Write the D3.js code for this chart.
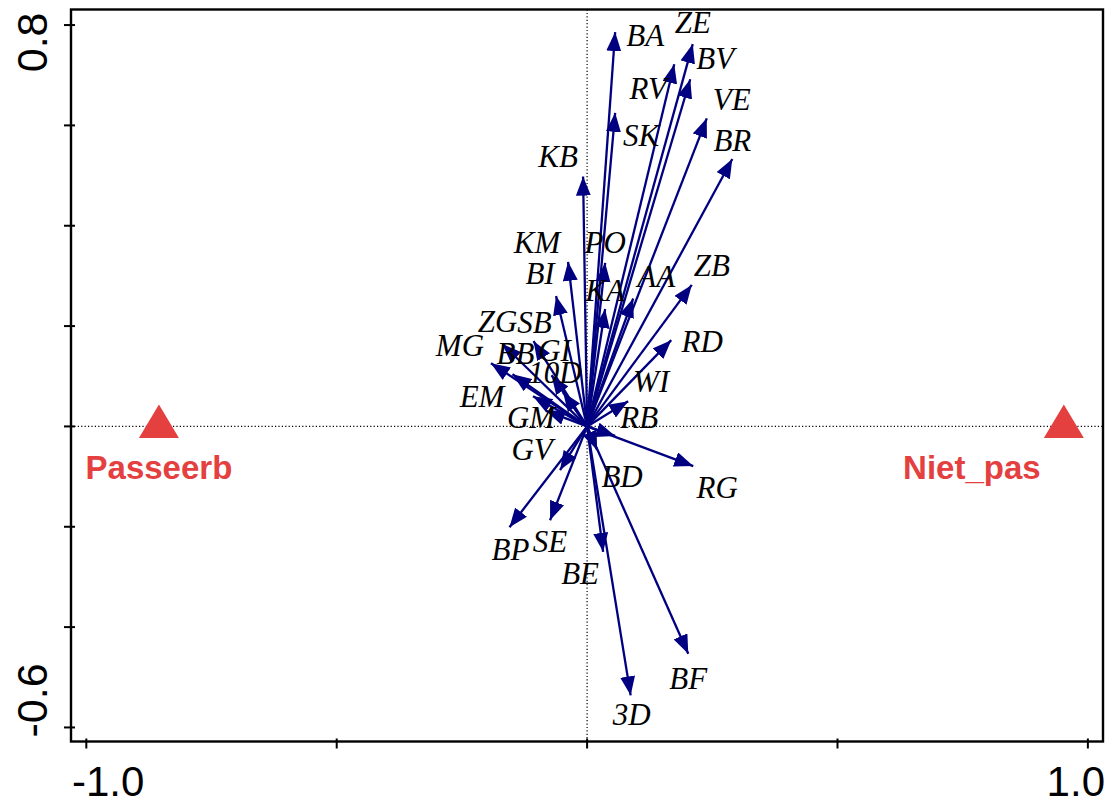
<!DOCTYPE html>
<html>
<head>
<meta charset="utf-8">
<script src="https://cdn.jsdelivr.net/npm/d3@7"></script>
<style>
  html, body { margin: 0; padding: 0; background: #fff; }
  svg { display: block; }
</style>
</head>
<body>
<svg id="chart" width="1113" height="801"></svg>
<script>
// Species arrows: ordination scores on axis 1 and axis 2
const species = ["BA","ZE","RV","BV","SK","VE","BR","KB","KM","PO","BI","KA","AA","ZB",
                 "ZG","SB","MG","BB","GI","10D","EM","GM","RD","WI","RB","RG","BD",
                 "GV","BP","SE","BE","BF","3D"];
const axis1 = [0.056, 0.211, 0.174, 0.206, 0.056, 0.239, 0.290, -0.008, -0.038, 0.036, -0.062, 0.036, 0.092, 0.209,
               -0.169, -0.107, -0.192, -0.149, -0.071, -0.048, -0.108, -0.082, 0.168, 0.082, 0.056, 0.212, 0.020,
               -0.054, -0.155, -0.074, 0.032, 0.202, 0.087];
const axis2 = [0.786, 0.762, 0.722, 0.692, 0.625, 0.614, 0.533, 0.498, 0.328, 0.326, 0.260, 0.234, 0.255, 0.282,
               0.164, 0.170, 0.126, 0.104, 0.102, 0.068, 0.060, 0.031, 0.172, 0.050, -0.019, -0.079, -0.047,
               -0.087, -0.201, -0.187, -0.250, -0.453, -0.536];

// Nominal environmental classes (centroids)
const classes = ["Passeerb", "Niet_pas"];
const classAxis1 = [-0.855, 0.952];
const classAxis2 = [0.0, 0.0];

// Axis ticks and the ones that carry a label
const xTicks = [-1.0, -0.5, 0.0, 0.5, 1.0];
const yTicks = [-0.6, -0.4, -0.2, 0.0, 0.2, 0.4, 0.6, 0.8];
const xTickLabels = ["-1.0", "1.0"];
const yTickLabels = ["-0.6", "0.8"];

// Label placement relative to arrow tips (pixels)
const labelNudge = {
  "BA":[30,3], "ZE":[0,-22], "RV":[-26,24], "BV":[25,-21], "SK":[26,22], "VE":[25,-19],
  "BR":[0,-19], "KB":[-25,-20], "KM":[-31,-20], "PO":[0,-21], "BI":[-16,-23], "KA":[0,-19],
  "AA":[23,-22], "ZB":[20,-20], "ZG":[-5,-23], "SB":[1,-19], "MG":[-31,-18], "BB":[3,-21],
  "GI":[3,-25], "10D":[-8,-20], "EM":[-51,0], "GM":[-15,6], "RD":[31,1], "WI":[23,-20],
  "RB":[24,-19], "RG":[24,21], "BD":[25,26], "GV":[-28,-21], "BP":[1,22], "SE":[0,21],
  "BE":[-23,21], "BF":[0,24], "3D":[1,19]
};
const classNudge = { "Passeerb":[0,41], "Niet_pas":[-92,41] };

const svg = d3.select("#chart");
const frameL = 71, frameR = 1103, frameT = 9.5, frameB = 741.5;

const x = d3.scaleLinear().domain([-1.0306, 1.0302]).range([frameL, frameR]);
const y = d3.scaleLinear().domain([-0.628, 0.831]).range([frameB, frameT]);

const navy = "#000080";
const red = "#E3403F";

// Dotted zero lines
svg.append("line")
  .attr("x1", frameL).attr("x2", frameR).attr("y1", y(0)).attr("y2", y(0))
  .attr("stroke", "#000").attr("stroke-width", 1.2).attr("stroke-dasharray", "1.2,2.2");
svg.append("line")
  .attr("x1", x(0)).attr("x2", x(0)).attr("y1", frameT).attr("y2", frameB)
  .attr("stroke", "#000").attr("stroke-width", 1.2).attr("stroke-dasharray", "1.2,2.2");

// Arrowhead marker
const defs = svg.append("defs");
defs.append("marker")
  .attr("id", "head")
  .attr("markerUnits", "userSpaceOnUse")
  .attr("viewBox", "0 -7.5 19 15")
  .attr("refX", 19).attr("refY", 0)
  .attr("markerWidth", 19).attr("markerHeight", 15)
  .attr("orient", "auto")
  .append("path")
  .attr("d", "M0,-7.5L19,0L0,7.5Z")
  .attr("fill", navy);

const rows = species.map((s, i) => ({ name: s, a1: axis1[i], a2: axis2[i] }));

// Species arrows from the origin
svg.append("g").selectAll("line")
  .data(rows).join("line")
  .attr("x1", x(0)).attr("y1", y(0))
  .attr("x2", d => x(d.a1)).attr("y2", d => y(d.a2))
  .attr("stroke", navy).attr("stroke-width", 2.3)
  .attr("marker-end", "url(#head)");

// Species labels
svg.append("g").selectAll("text")
  .data(rows).join("text")
  .attr("x", d => x(d.a1) + labelNudge[d.name][0])
  .attr("y", d => y(d.a2) + labelNudge[d.name][1])
  .attr("dy", "0.35em")
  .attr("text-anchor", "middle")
  .attr("font-family", "'Liberation Serif', 'Times New Roman', serif")
  .attr("font-style", "italic")
  .attr("font-size", 31)
  .attr("fill", "#000")
  .text(d => d.name);

// Class centroids as triangles
const crow = classes.map((c, i) => ({ name: c, a1: classAxis1[i], a2: classAxis2[i] }));
svg.append("g").selectAll("path")
  .data(crow).join("path")
  .attr("d", d => {
    const cx = x(d.a1), cy = y(d.a2);
    return `M${cx},${cy - 22}L${cx + 20},${cy + 11.5}L${cx - 20},${cy + 11.5}Z`;
  })
  .attr("fill", red);
svg.append("g").selectAll("text")
  .data(crow).join("text")
  .attr("x", d => x(d.a1) + classNudge[d.name][0])
  .attr("y", d => y(d.a2) + classNudge[d.name][1])
  .attr("dy", "0.35em")
  .attr("text-anchor", "middle")
  .attr("font-family", "'Liberation Sans', Arial, sans-serif")
  .attr("font-weight", "bold")
  .attr("font-size", 33)
  .attr("fill", red)
  .text(d => d.name);

// Frame
svg.append("rect")
  .attr("x", frameL).attr("y", frameT)
  .attr("width", frameR - frameL).attr("height", frameB - frameT)
  .attr("fill", "none").attr("stroke", "#000").attr("stroke-width", 2.4);

// Tick marks
svg.append("g").selectAll("line")
  .data(xTicks).join("line")
  .attr("x1", d => x(d)).attr("x2", d => x(d))
  .attr("y1", frameB - 3).attr("y2", frameB + 7)
  .attr("stroke", "#000").attr("stroke-width", 2);
svg.append("g").selectAll("line")
  .data(yTicks).join("line")
  .attr("y1", d => y(d)).attr("y2", d => y(d))
  .attr("x1", frameL - 7).attr("x2", frameL + 4)
  .attr("stroke", "#000").attr("stroke-width", 2);

// Tick labels, kept within the frame extent
const tickFont = "'Liberation Sans', Arial, sans-serif";
svg.append("g").selectAll("text")
  .data(xTickLabels).join("text")
  .attr("x", (d, i) => i === 0 ? frameL + 1 : frameR + 2)
  .attr("y", 796)
  .attr("text-anchor", (d, i) => i === 0 ? "start" : "end")
  .attr("font-family", tickFont).attr("font-size", 42)
  .attr("fill", "#000")
  .text(d => d);
svg.append("g").selectAll("text")
  .data(yTickLabels).join("text")
  .attr("transform", (d, i) => `translate(47,${i === 0 ? frameB - 4 : frameT + 3}) rotate(-90)`)
  .attr("text-anchor", (d, i) => i === 0 ? "start" : "end")
  .attr("font-family", tickFont).attr("font-size", 43)
  .attr("fill", "#000")
  .text(d => d);
</script>
</body>
</html>
